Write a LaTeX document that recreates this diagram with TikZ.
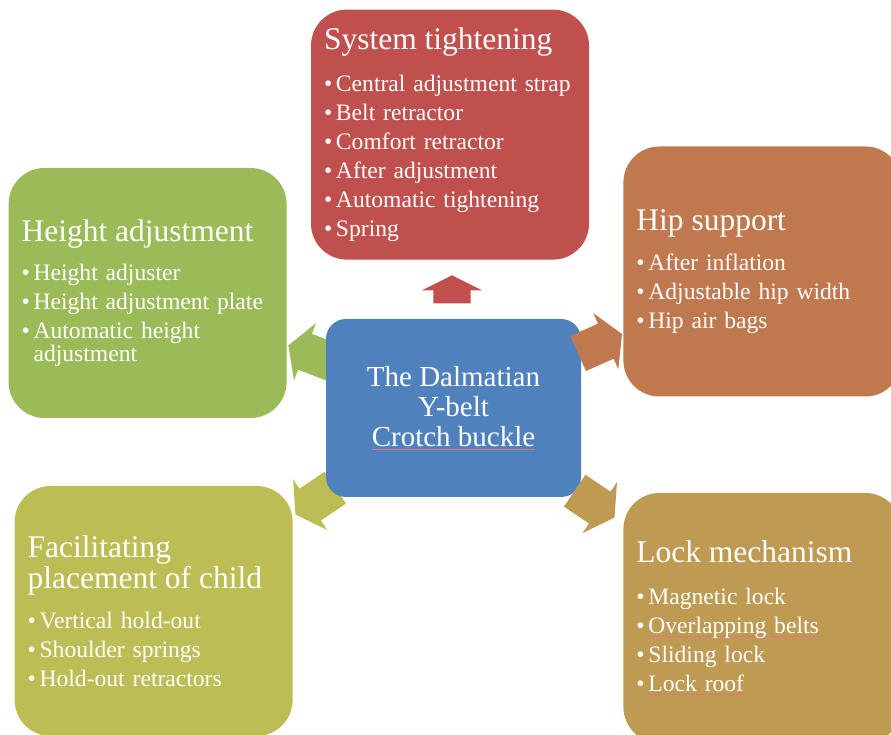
\documentclass[tikz,border=0pt]{standalone}
\usepackage{fontspec}
\setmainfont{Liberation Serif}
\usetikzlibrary{positioning}
\usetikzlibrary{shapes.arrows}

\definecolor{hubblue}{HTML}{4F81BD}
\definecolor{sysred}{HTML}{C0504D}
\definecolor{hgtgreen}{HTML}{9BBB59}
\definecolor{hiporange}{HTML}{C0784F}
\definecolor{lcktan}{HTML}{BE9A52}
\definecolor{facolive}{HTML}{BDBD56}
\definecolor{spellred}{HTML}{E07878}

\newcommand{\itm}[1]{\makebox[12pt][l]{\textbullet}#1}
\newcommand{\hd}[1]{{\fontsize{31.5}{31}\selectfont #1}}
\newcommand{\spellmark}[1]{\setbox0=\hbox{#1}\rlap{\color{spellred}\rule[-3pt]{\wd0}{0.7pt}}\box0}

\begin{document}
\begin{tikzpicture}[
        x = 1pt, y = 1pt,
        box/.style = {
            fill = #1,
            draw = none,
            rounded corners = 36pt,
            text = white,
            text width = 252pt,
            minimum height = 250pt,
            inner xsep = 13pt,
            inner ysep = 0pt,
            align = left,
            font = \fontsize{23.6}{29}\selectfont
        },
        hub/.style = {
            fill = hubblue,
            rounded corners = 20pt,
            text = white,
            minimum width = 255pt,
            minimum height = 178pt,
            align = center,
            font = \fontsize{29}{30}\selectfont
        },
        blockarrow/.style = {
            single arrow,
            fill = #1,
            draw = none,
            inner xsep = 0pt,
            inner ysep = 19pt,
            minimum height = 48pt,
            single arrow head extend = 11.5pt,
            single arrow tip angle = 120,
            single arrow head indent = 0pt
        }
    ]
    \useasboundingbox (0,0) rectangle (891,735);

    \node[blockarrow=hgtgreen, rotate=159] (ahgt) at (316,379) {};
    \node[blockarrow=facolive, rotate=214] (afac) at (320,237) {};

    \node[hub] (ctr) at (453.5,327) {The Dalmatian\\Y-belt\\\spellmark{Crotch buckle}};

    \node[blockarrow=sysred, rotate=90, minimum height=28pt, inner ysep=18.5pt,
          single arrow head extend=11.5pt, single arrow tip angle=127] (asys) at (452,441) {};
    \node[blockarrow=hiporange, rotate=24] (ahip) at (595,389) {};
    \node[blockarrow=lcktan, rotate=-34] (alck) at (590,234) {};

    \node[box=sysred, above=59pt of ctr, xshift=-3.5pt] (sys) {%
        \hd{System tightening}\\[13pt]
        \itm{Central adjustment strap}\\
        \itm{Belt retractor}\\
        \itm{Comfort retractor}\\
        \itm{After adjustment}\\
        \itm{Automatic tightening}\\
        \itm{Spring}};
    \node[box=hgtgreen, left=39pt of ctr, yshift=115pt] (hgt) {%
        \hd{Height adjustment}\\[10pt]
        \itm{Height adjuster}\\
        \itm{Height adjustment plate}\\
        \itm{Automatic height}\\[-6pt]
        \hspace*{12pt}adjustment};
    \node[box=hiporange, right=42pt of ctr, yshift=136.5pt] (hip) {%
        \hd{Hip support}\\[11pt]
        \itm{After inflation}\\
        \itm{Adjustable hip width}\\
        \itm{Hip air bags}};
    \node[box=lcktan, right=42pt of ctr, yshift=-210pt] (lck) {%
        \hd{Lock mechanism}\\[13pt]
        \itm{Magnetic lock}\\
        \itm{\spellmark{Overlapping belts}}\\
        \itm{Sliding lock}\\
        \itm{\spellmark{Lock roof}}};
    \node[box=facolive, left=33pt of ctr, yshift=-203pt] (fac) {%
        \hd{Facilitating}\\[2pt]
        \hd{placement of child}\\[11pt]
        \itm{Vertical hold-out}\\
        \itm{Shoulder springs}\\
        \itm{Hold-out retractors}};
\end{tikzpicture}
\end{document}
